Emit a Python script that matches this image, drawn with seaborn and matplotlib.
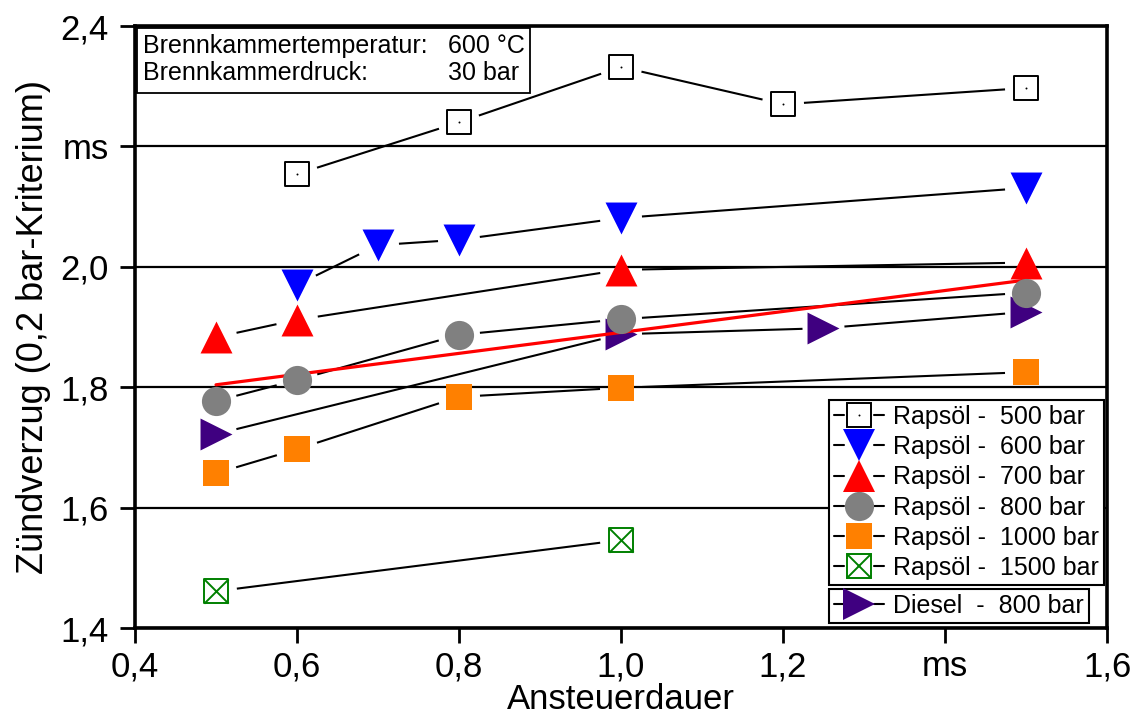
import numpy as np
import matplotlib
matplotlib.use("Agg")
import matplotlib.pyplot as plt
import seaborn as sns
from matplotlib.legend_handler import HandlerBase
from matplotlib.lines import Line2D
from matplotlib.patches import Rectangle

# ---- data -------------------------------------------------------------
x_500 = [0.6, 0.8, 1.0, 1.2, 1.5]
y_500 = [2.154, 2.240, 2.332, 2.270, 2.297]

x_600 = [0.6, 0.7, 0.8, 1.0, 1.5]
y_600 = [1.970, 2.036, 2.045, 2.081, 2.131]

x_700 = [0.5, 0.6, 1.0, 1.5]
y_700 = [1.883, 1.912, 1.995, 2.007]

x_800 = [0.5, 0.6, 0.8, 1.0, 1.5]
y_800 = [1.777, 1.812, 1.887, 1.913, 1.957]

x_1000 = [0.5, 0.6, 0.8, 1.0, 1.5]
y_1000 = [1.657, 1.697, 1.784, 1.799, 1.825]

x_1500 = [0.5, 1.0]
y_1500 = [1.461, 1.546]

x_diesel = [0.5, 1.0, 1.25, 1.5]
y_diesel = [1.722, 1.888, 1.898, 1.925]

trend_x = [0.5, 1.5]
trend_y = [1.804, 1.978]

x_ticks = [0.4, 0.6, 0.8, 1.0, 1.2, 1.4, 1.6]
x_ticklabels = ["0,4", "0,6", "0,8", "1,0", "1,2", "ms", "1,6"]
y_ticks = [1.4, 1.6, 1.8, 2.0, 2.2, 2.4]
y_ticklabels = ["1,4", "1,6", "1,8", "2,0", "ms", "2,4"]

labels_rapsoel = ["Rapsöl -  500 bar", "Rapsöl -  600 bar", "Rapsöl -  700 bar",
                  "Rapsöl -  800 bar", "Rapsöl -  1000 bar", "Rapsöl -  1500 bar"]
label_diesel = "Diesel  -  800 bar"

# ---- style ------------------------------------------------------------
sns.set_style("white")
plt.rcParams["font.family"] = ["Liberation Sans", "DejaVu Sans"]
plt.rcParams["text.color"] = "black"
plt.rcParams["axes.labelcolor"] = "black"
plt.rcParams["xtick.color"] = "black"
plt.rcParams["ytick.color"] = "black"

W, H = 1137, 720
fig = plt.figure(figsize=(W / 100, H / 100), dpi=100)
ax = fig.add_axes([135 / W, 1 - 628 / H, 972 / W, 602 / H])
ax.set_xlim(0.4, 1.6)
ax.set_ylim(1.4, 2.4)

# series styling: (x, y, marker, size[pt], face, edge, edge width, zorder, overlay)
series = [
    (x_500, y_500, "s", 17.5, "white", "black", 1.4, 6, "dot"),
    (x_600, y_600, "v", 23, "#0000ff", "#0000ff", 0.0, 6, None),
    (x_700, y_700, "^", 23, "#ff0000", "#ff0000", 0.0, 6, None),
    (x_800, y_800, "o", 21, "#808080", "#808080", 0.0, 6, None),
    (x_1000, y_1000, "s", 18.5, "#ff8000", "#ff8000", 0.0, 6, None),
    (x_1500, y_1500, "s", 17.5, "white", "#008000", 1.4, 6, "x"),
    (x_diesel, y_diesel, ">", 23, "#3f0080", "#3f0080", 0.0, 4, None),
]

GAP_PX = 21


def gapped_line(xs, ys, gap):
    """Connect consecutive points with segments that stop short of the markers."""
    pts = ax.transData.transform(np.column_stack([xs, ys]))
    inv = ax.transData.inverted()
    for p0, p1 in zip(pts[:-1], pts[1:]):
        d = p1 - p0
        u = d / np.hypot(*d)
        seg = inv.transform(np.vstack([p0 + u * gap, p1 - u * gap]))
        ax.plot(seg[:, 0], seg[:, 1], color="black", lw=1.5,
                solid_capstyle="butt", zorder=3)


for xs, ys, mk, sz, fc, ec, ew, z, extra in series:
    gapped_line(xs, ys, GAP_PX)
    sns.scatterplot(x=xs, y=ys, marker=mk, s=sz ** 2, color=fc, edgecolor=ec,
                    linewidth=ew, ax=ax, zorder=z, legend=False)
    if extra == "x":
        sns.scatterplot(x=xs, y=ys, marker="x", s=sz ** 2, color=ec,
                        linewidth=ew, ax=ax, zorder=z + 0.1, legend=False)
    elif extra == "dot":
        sns.scatterplot(x=xs, y=ys, marker="o", s=2, color="black",
                        linewidth=0, ax=ax, zorder=z + 0.1, legend=False)

# linear trend
sns.lineplot(x=trend_x, y=trend_y, color="#ff0000", lw=2.3, ax=ax, zorder=5)

# ---- axes -------------------------------------------------------------
ax.set_xticks(x_ticks)
ax.set_xticklabels(x_ticklabels)
ax.set_yticks(y_ticks)
ax.set_yticklabels(y_ticklabels)
ax.tick_params(axis="both", direction="out", length=11, width=2, labelsize=25,
               colors="black", bottom=True, left=True, top=False, right=False)
ax.tick_params(axis="y", pad=8)
ax.tick_params(axis="x", pad=5)
ax.yaxis.grid(True, color="black", lw=1.6)
ax.xaxis.grid(False)
ax.set_axisbelow(True)
for sp in ax.spines.values():
    sp.set_linewidth(2.6)
    sp.set_color("black")

ax.set_xlabel("Ansteuerdauer", fontsize=25, labelpad=0)
ax.set_ylabel("Zündverzug (0,2 bar-Kriterium)", fontsize=26, labelpad=7)

# ---- info box ---------------------------------------------------------
ax.add_patch(Rectangle((0.002, 0.889), 0.404, 0.108, transform=ax.transAxes,
                       facecolor="white", edgecolor="black", lw=1.3, zorder=7))
ax.text(0.0082, 0.9551, "Brennkammertemperatur:", transform=ax.transAxes,
        fontsize=18, va="baseline", ha="left", zorder=8)
ax.text(0.322, 0.9551, "600 °C", transform=ax.transAxes,
        fontsize=18, va="baseline", ha="left", zorder=8)
ax.text(0.0082, 0.9103, "Brennkammerdruck:", transform=ax.transAxes,
        fontsize=18, va="baseline", ha="left", zorder=8)
ax.text(0.322, 0.9103, "30 bar", transform=ax.transAxes,
        fontsize=18, va="baseline", ha="left", zorder=8)


# ---- legends ----------------------------------------------------------
class GapHandler(HandlerBase):
    """Legend key drawn as: short dash, marker, short dash."""

    def create_artists(self, legend, orig_handle, xdescent, ydescent,
                       width, height, fontsize, trans):
        y = height / 2 - ydescent
        x0 = -xdescent
        dash = 0.2 * width
        arts = [Line2D([x0, x0 + dash], [y, y], color="black", lw=1.5),
                Line2D([x0 + width - dash, x0 + width], [y, y], color="black", lw=1.5)]
        for h in orig_handle:
            m = Line2D([x0 + width / 2], [y], linestyle="none",
                       marker=h.get_marker(), markersize=h.get_markersize(),
                       markerfacecolor=h.get_markerfacecolor(),
                       markeredgecolor=h.get_markeredgecolor(),
                       markeredgewidth=h.get_markeredgewidth())
            arts.append(m)
        for a in arts:
            a.set_transform(trans)
        return arts


def proxy(mk, sz, fc, ec, ew):
    return Line2D([], [], linestyle="none", marker=mk, markersize=sz,
                  markerfacecolor=fc, markeredgecolor=ec, markeredgewidth=ew)


handles = []
for xs, ys, mk, sz, fc, ec, ew, z, extra in series:
    parts = [proxy(mk, sz, fc, ec, ew)]
    if extra == "x":
        parts.append(proxy("x", sz, ec, ec, ew))
    elif extra == "dot":
        parts.append(proxy("o", 1.4, "black", "black", 0))
    handles.append(tuple(parts))

leg_kw = dict(fontsize=18, loc="upper left", frameon=True, fancybox=False,
              framealpha=1, edgecolor="black", handlelength=2.0,
              handletextpad=0.35, borderpad=0.2, labelspacing=0.25,
              borderaxespad=0, handler_map={tuple: GapHandler()})

leg1 = ax.legend(handles[:6], labels_rapsoel, bbox_to_anchor=(0.714, 0.379), **leg_kw)
leg1.get_frame().set_linewidth(1.5)
leg1.set_zorder(9)
ax.add_artist(leg1)
leg2 = ax.legend(handles[6:], [label_diesel], bbox_to_anchor=(0.714, 0.0648), **leg_kw)
leg2.get_frame().set_linewidth(1.5)
leg2.set_zorder(9)

fig.savefig("out.png", dpi=100)
